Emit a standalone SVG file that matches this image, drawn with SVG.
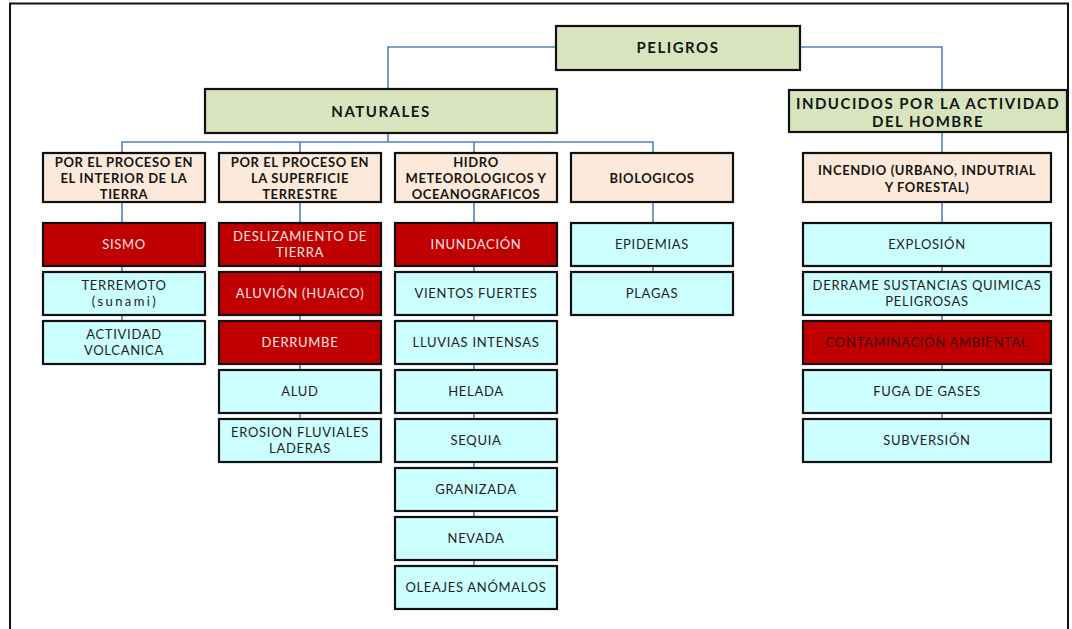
<svg xmlns="http://www.w3.org/2000/svg" width="1072" height="629" viewBox="0 0 1072 629">
<style>
.frame{fill:none;stroke:#111;stroke-width:2}
.con path{fill:none;stroke:#4f81bd;stroke-width:1.6}
.box{stroke:#111;stroke-width:2.2}
.g{fill:#d7e4bd}
.p{fill:#fde9d9}
.c{fill:#ccffff}
.r{fill:#c00000}
text{font-family:Lato,"Open Sans","Liberation Sans",sans-serif;text-anchor:middle}
.big{font-size:15px;font-weight:700;letter-spacing:1.5px;fill:#151515}
.hd{font-size:13px;font-weight:700;letter-spacing:0.6px;fill:#151515}
.lf{font-size:13px;letter-spacing:0.7px;fill:#1e1e1e}
.lfw{font-size:13px;letter-spacing:0.7px;fill:#fbe4e4}
.lfd{font-size:13px;letter-spacing:0.7px;fill:#3a0a0a}
.sp{letter-spacing:2.4px}
</style>
<rect width="1072" height="629" fill="#fff"/>
<path class="frame" d="M10,640 V3.5 H1068 V640"/>
<g id="connectors" class="con">
<path d="M556,47 H388 V89"/>
<path d="M800,47 H942 V90"/>
<path d="M388,133 V142"/>
<path d="M122,153 V142 H653 V153"/>
<path d="M300,142 V153"/>
<path d="M474,142 V153"/>
<path d="M942,132 V153"/>
<path d="M122,202 V223 M122,266 V272 M122,315 V321"/>
<path d="M300,202 V223 M300,266 V272 M300,315 V321 M300,364 V370 M300,413 V419"/>
<path d="M474,202 V223 M474,266 V272 M474,315 V321 M474,364 V370 M474,413 V419 M474,462 V468 M474,511 V517 M474,560 V566"/>
<path d="M653,202 V223 M653,266 V272"/>
<path d="M942,202 V223 M942,266 V272 M942,315 V321 M942,364 V370 M942,413 V419"/>
</g>
<g id="peligros"><rect class="box g" x="556" y="26" width="244" height="44"/><text class="big" x="678" y="52.5">PELIGROS</text></g>
<g id="naturales"><rect class="box g" x="205" y="89" width="352" height="44"/><text class="big" x="381" y="116.5">NATURALES</text></g>
<g id="inducidos"><rect class="box g" x="789" y="90" width="278" height="42"/><text class="big" x="928" y="108.5">INDUCIDOS POR LA ACTIVIDAD</text><text class="big" x="928" y="126.5">DEL HOMBRE</text></g>
<g id="interior"><rect class="box p" x="43" y="153" width="162" height="49"/><text class="hd" x="124" y="166.5">POR EL PROCESO EN</text><text class="hd" x="124" y="182.5">EL INTERIOR DE LA</text><text class="hd" x="124" y="198.5">TIERRA</text></g>
<g id="superficie"><rect class="box p" x="219" y="153" width="162" height="49"/><text class="hd" x="300" y="166.5">POR EL PROCESO EN</text><text class="hd" x="300" y="182.5">LA SUPERFICIE</text><text class="hd" x="300" y="198.5">TERRESTRE</text></g>
<g id="hidro"><rect class="box p" x="395" y="153" width="162" height="49"/><text class="hd" x="476" y="166.5">HIDRO</text><text class="hd" x="476" y="182.5">METEOROLOGICOS Y</text><text class="hd" x="476" y="198.5">OCEANOGRAFICOS</text></g>
<g id="biologicos"><rect class="box p" x="571" y="153" width="162" height="49"/><text class="hd" x="652" y="182.5">BIOLOGICOS</text></g>
<g id="incendio"><rect class="box p" x="803" y="153" width="248" height="49"/><text class="hd" x="927" y="174.5">INCENDIO (URBANO, INDUTRIAL</text><text class="hd" x="927" y="191.5">Y FORESTAL)</text></g>
<g id="sismo"><rect class="box r" x="43" y="223" width="162" height="43"/><text class="lfw" x="124" y="249">SISMO</text></g>
<g id="terremoto"><rect class="box c" x="43" y="272" width="162" height="43"/><text class="lf" x="124" y="289.5">TERREMOTO</text><text class="lf sp" x="125" y="305.5">(sunami)</text></g>
<g id="volcanica"><rect class="box c" x="43" y="321" width="162" height="43"/><text class="lf" x="124" y="338.5">ACTIVIDAD</text><text class="lf" x="124" y="354.5">VOLCANICA</text></g>
<g id="deslizamiento"><rect class="box r" x="219" y="223" width="162" height="43"/><text class="lfw" x="300" y="240.5">DESLIZAMIENTO DE</text><text class="lfw" x="300" y="256.5">TIERRA</text></g>
<g id="aluvion"><rect class="box r" x="219" y="272" width="162" height="43"/><text class="lfw" x="300" y="298">ALUVIÓN (HUAiCO)</text></g>
<g id="derrumbe"><rect class="box r" x="219" y="321" width="162" height="43"/><text class="lfw" x="300" y="347">DERRUMBE</text></g>
<g id="alud"><rect class="box c" x="219" y="370" width="162" height="43"/><text class="lf" x="300" y="396">ALUD</text></g>
<g id="erosion"><rect class="box c" x="219" y="419" width="162" height="43"/><text class="lf" x="300" y="436.5">EROSION FLUVIALES</text><text class="lf" x="300" y="452.5">LADERAS</text></g>
<g id="inundacion"><rect class="box r" x="395" y="223" width="162" height="43"/><text class="lfw" x="476" y="249">INUNDACIÓN</text></g>
<g id="vientos"><rect class="box c" x="395" y="272" width="162" height="43"/><text class="lf" x="476" y="298">VIENTOS FUERTES</text></g>
<g id="lluvias"><rect class="box c" x="395" y="321" width="162" height="43"/><text class="lf" x="476" y="347">LLUVIAS INTENSAS</text></g>
<g id="helada"><rect class="box c" x="395" y="370" width="162" height="43"/><text class="lf" x="476" y="396">HELADA</text></g>
<g id="sequia"><rect class="box c" x="395" y="419" width="162" height="43"/><text class="lf" x="476" y="445">SEQUIA</text></g>
<g id="granizada"><rect class="box c" x="395" y="468" width="162" height="43"/><text class="lf" x="476" y="494">GRANIZADA</text></g>
<g id="nevada"><rect class="box c" x="395" y="517" width="162" height="43"/><text class="lf" x="476" y="543">NEVADA</text></g>
<g id="oleajes"><rect class="box c" x="395" y="566" width="162" height="43"/><text class="lf" x="476" y="592">OLEAJES ANÓMALOS</text></g>
<g id="epidemias"><rect class="box c" x="571" y="223" width="162" height="43"/><text class="lf" x="652" y="249">EPIDEMIAS</text></g>
<g id="plagas"><rect class="box c" x="571" y="272" width="162" height="43"/><text class="lf" x="652" y="298">PLAGAS</text></g>
<g id="explosion"><rect class="box c" x="803" y="223" width="248" height="43"/><text class="lf" x="927" y="249">EXPLOSIÓN</text></g>
<g id="derrame"><rect class="box c" x="803" y="272" width="248" height="43"/><text class="lf" x="927" y="289.5">DERRAME SUSTANCIAS QUIMICAS</text><text class="lf" x="927" y="305.5">PELIGROSAS</text></g>
<g id="contaminacion"><rect class="box r" x="803" y="321" width="248" height="43"/><text class="lfd" x="927" y="347">CONTAMINACIÓN AMBIENTAL</text></g>
<g id="fuga"><rect class="box c" x="803" y="370" width="248" height="43"/><text class="lf" x="927" y="396">FUGA DE GASES</text></g>
<g id="subversion"><rect class="box c" x="803" y="419" width="248" height="43"/><text class="lf" x="927" y="445">SUBVERSIÓN</text></g>
</svg>
